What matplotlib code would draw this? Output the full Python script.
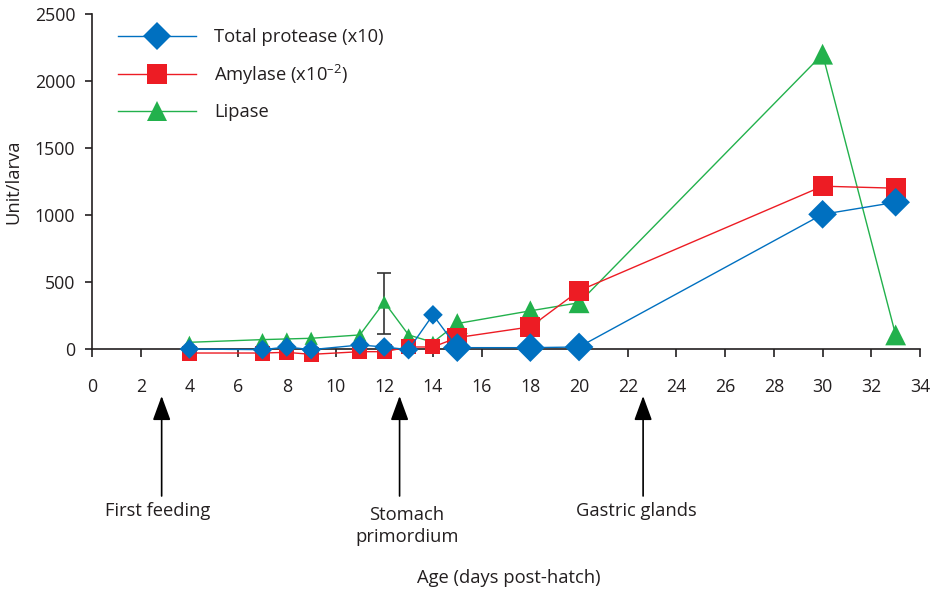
import matplotlib
matplotlib.use("Agg")
import matplotlib.pyplot as plt
from matplotlib.lines import Line2D
import numpy as np

plt.rcParams['font.family'] = ['Open Sans', 'DejaVu Sans']
plt.rcParams['mathtext.fontset'] = 'custom'
plt.rcParams['mathtext.rm'] = 'Open Sans'
plt.rcParams['mathtext.it'] = 'Open Sans:italic'

# ---- data ----
days = [4, 7, 8, 9, 11, 12, 13, 14, 15, 18, 20, 30, 33]
protease = [0, -5, 15, -5, 30, 15, -5, 255, 10, 10, 15, 1005, 1095]
amylase = [-30, -30, -25, -40, -20, -20, 15, 15, 85, 165, 435, 1215, 1200]
lipase = [50, 70, 75, 80, 105, 350, 105, 50, 190, 285, 345, 2200, 105]
lipase_err_low = [0, 0, 0, 0, 0, 240, 0, 0, 0, 0, 0, 0, 0]
lipase_err_high = [0, 0, 0, 0, 0, 220, 0, 0, 0, 0, 0, 0, 0]

series_labels = ['Total protease (x10)', 'Amylase (x10$^{\\mathregular{\u20132}}$)', 'Lipase']
event_days = [2.86, 12.63, 22.63]
event_labels = ['First feeding', 'Stomach\nprimordium', 'Gastric glands']
x_ticks = list(range(0, 35, 2))
y_ticks = [0, 500, 1000, 1500, 2000, 2500]

# ---- style ----
BLUE = '#0070C0'
RED = '#ED1C24'
GREEN = '#22B14C'
TXT = '#231F20'
FS = 13.2
FST = 12.8

W, H = 936, 593
fig = plt.figure(figsize=(W / 100, H / 100), dpi=100)
ax = fig.add_axes([92 / W, 1 - 349 / H, 828 / W, 335 / H])
ax.set_xlim(0, 34)
ax.set_ylim(0, 2500)

d = np.array(days)
late = d >= 15

def sizes(small, large):
    return np.where(late, large, small) ** 2

# lipase (bottom)
ax.plot(days, lipase, color=GREEN, lw=1.0, clip_on=False, zorder=2)
ax.scatter(days, lipase, s=sizes(9.5, 15), marker='^', color=GREEN,
           linewidths=0, clip_on=False, zorder=3)
el = np.array(lipase_err_low)
eh = np.array(lipase_err_high)
m = (el > 0) | (eh > 0)
ax.errorbar(d[m], np.array(lipase)[m], yerr=[el[m], eh[m]], fmt='none',
            ecolor='#333333', elinewidth=1.2, capsize=5, capthick=1.2,
            clip_on=False, zorder=2.5)

# amylase
ax.plot(days, amylase, color=RED, lw=1.0, clip_on=False, zorder=4)
ax.scatter(days, amylase, s=sizes(10.8, 14.4), marker='s', color=RED,
           linewidths=0, clip_on=False, zorder=5)

# protease (top)
ax.plot(days, protease, color=BLUE, lw=1.0, clip_on=False, zorder=6)
ax.scatter(days, protease, s=sizes(10.0, 14.6), marker='D', color=BLUE,
           linewidths=0, clip_on=False, zorder=7)

# axes styling
for sp in ['top', 'right']:
    ax.spines[sp].set_visible(False)
for sp in ['left', 'bottom']:
    ax.spines[sp].set_color(TXT)
    ax.spines[sp].set_linewidth(1.2)
ax.set_xticks(x_ticks)
ax.set_yticks(y_ticks)
ax.tick_params(axis='x', direction='out', length=6, width=1.2, colors=TXT,
               labelsize=FST, pad=15)
ax.tick_params(axis='y', direction='out', length=5, width=1.2, colors=TXT,
               labelsize=FST, pad=7)
ax.set_ylabel('Unit/larva', fontsize=FS, color=TXT)
ax.yaxis.set_label_coords(-0.0845, 0.5)
fig.text(509 / W, 1 - 578 / H, 'Age (days post-hatch)', fontsize=FS,
         color=TXT, ha='center', va='center')

# legend
handles = [
    Line2D([], [], color=BLUE, lw=1.0, marker='D', markersize=14.6, markeredgewidth=0),
    Line2D([], [], color=RED, lw=1.0, marker='s', markersize=15, markeredgewidth=0),
    Line2D([], [], color=GREEN, lw=1.0, marker='^', markersize=15, markeredgewidth=0),
]
ax.legend(handles, series_labels, loc='upper left',
          bbox_to_anchor=((118 - 92) / 828, (349 - 28) / 335),
          frameon=False, fontsize=FS, handlelength=4.25, handletextpad=1.0,
          labelspacing=0.9, borderpad=0, borderaxespad=0, labelcolor=TXT)

# event arrows
trans = ax.get_xaxis_transform()
tip = (349 - 396) / 335
base = (349 - 496) / 335
for xd, lab in zip(event_days, event_labels):
    ax.annotate('', xy=(xd, tip), xytext=(xd, base), xycoords=trans,
                textcoords=trans,
                arrowprops=dict(arrowstyle='-|>,head_length=1.5,head_width=0.55',
                                color='black', lw=1.2, shrinkA=0, shrinkB=0),
                annotation_clip=False)

label_pos = [(158, 511), (407, 526), (636, 511)]
for (px, py), lab in zip(label_pos, event_labels):
    fig.text(px / W, 1 - py / H, lab, fontsize=FS, color=TXT,
             ha='center', va='center', linespacing=1.25)

fig.savefig('out.png', dpi=100)
